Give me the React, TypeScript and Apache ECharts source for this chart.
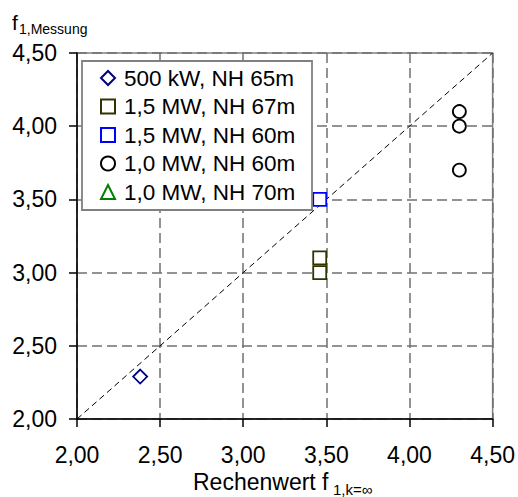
import React, { useEffect, useRef } from "react";
import * as echarts from "echarts";

const seriesNames = [
  "500 kW, NH 65m",
  "1,5 MW, NH 67m",
  "1,5 MW, NH 60m",
  "1,0 MW, NH 60m",
  "1,0 MW, NH 70m",
];
const seriesSymbols = ["diamond", "rect", "rect", "circle", "triangle"];
const seriesColors = ["#000080", "#333300", "#0000ff", "#000000", "#008000"];
const seriesSizes = [14, 13, 13, 13, 14];

const x500kW = [2.38];
const y500kW = [2.29];
const x15MW67 = [3.46, 3.46];
const y15MW67 = [3.1, 3.0];
const x15MW60 = [3.46];
const y15MW60 = [3.5];
const x10MW60 = [4.3, 4.3, 4.3];
const y10MW60 = [4.1, 4.0, 3.7];
const x10MW70: number[] = [];
const y10MW70: number[] = [];

const diagonalX = [2.0, 4.5];
const diagonalY = [2.0, 4.5];

const axisMin = 2.0;
const axisMax = 4.5;
const axisStep = 0.5;

const xs = [x500kW, x15MW67, x15MW60, x10MW60, x10MW70];
const ys = [y500kW, y15MW67, y15MW60, y10MW60, y10MW70];

const FONT = "'Liberation Sans', Arial, sans-serif";
const fmt = (v: number) => v.toFixed(2).replace(".", ",");

export default function App() {
  const ref = useRef<HTMLDivElement>(null);
  useEffect(() => {
    if (!ref.current) return;
    const chart = echarts.init(ref.current, null, { renderer: "svg" });
    const scatterSeries = seriesNames.map((name, i) => ({
      name,
      type: "scatter",
      symbol: seriesSymbols[i],
      symbolSize: seriesSizes[i],
      z: 5,
      itemStyle: {
        color: "#ffffff",
        borderColor: seriesColors[i],
        borderWidth: 1.8,
        opacity: 1,
      },
      data: xs[i].map((x, k) => [x, ys[i][k]]),
    }));
    const axisCommon = {
      type: "value",
      min: axisMin,
      max: axisMax,
      interval: axisStep,
      axisLine: { show: true, onZero: false, lineStyle: { color: "#000", width: 1.5 } },
      axisTick: { show: true, inside: false, length: 8, lineStyle: { color: "#000", width: 1.5 } },
      splitLine: {
        show: true,
        lineStyle: { color: "#707070", width: 1.5, type: [10, 5] },
      },
      axisLabel: {
        color: "#000",
        fontSize: 23,
        fontFamily: FONT,
        formatter: fmt,
      },
    };
    chart.setOption({
      animation: false,
      backgroundColor: "#ffffff",
      grid: {
        left: 77,
        right: 24,
        top: 53,
        bottom: 78,
        show: true,
        borderColor: "#808080",
        borderWidth: 1.5,
        backgroundColor: "transparent",
      },
      xAxis: { ...axisCommon, axisLabel: { ...axisCommon.axisLabel, margin: 24 } },
      yAxis: { ...axisCommon, axisLabel: { ...axisCommon.axisLabel, margin: 20 } },
      legend: {
        orient: "vertical",
        left: 100,
        top: 66,
        padding: 0,
        itemWidth: 14,
        itemHeight: 14,
        itemGap: 4.5,
        z: 10,
        data: seriesNames,
        textStyle: {
          fontSize: 22.5,
          fontFamily: FONT,
          color: "#000",
          lineHeight: 24,
          padding: [0, 0, 0, 4],
        },
      },
      graphic: [
        {
          type: "rect",
          z: 8,
          shape: { x: 82, y: 61, width: 230, height: 149 },
          style: { fill: "#ffffff", stroke: "#808080", lineWidth: 1.8 },
        },
        {
          type: "text",
          x: 12,
          y: 22,
          style: { text: "f", fontSize: 21, fontFamily: FONT, fill: "#000", verticalAlign: "middle" },
        },
        {
          type: "text",
          x: 19,
          y: 28.5,
          style: { text: "1,Messung", fontSize: 14, fontFamily: FONT, fill: "#000", verticalAlign: "middle" },
        },
        {
          type: "text",
          x: 193,
          y: 481.5,
          style: { text: "Rechenwert f", fontSize: 23, fontFamily: FONT, fill: "#000", verticalAlign: "middle" },
        },
        {
          type: "text",
          x: 333,
          y: 489,
          style: { text: "1,k=∞", fontSize: 15, fontFamily: FONT, fill: "#000", verticalAlign: "middle" },
        },
      ],
      series: [
        {
          name: "diagonal",
          type: "line",
          data: diagonalX.map((x, k) => [x, diagonalY[k]]),
          symbol: "none",
          z: 3,
          lineStyle: { color: "#000", width: 1, type: [6, 4] },
        },
        ...scatterSeries,
      ],
    });
    return () => chart.dispose();
  }, []);
  return (
    <div
      ref={ref}
      style={{ position: "absolute", left: 0, top: 0, width: 518, height: 497 }}
    />
  );
}
